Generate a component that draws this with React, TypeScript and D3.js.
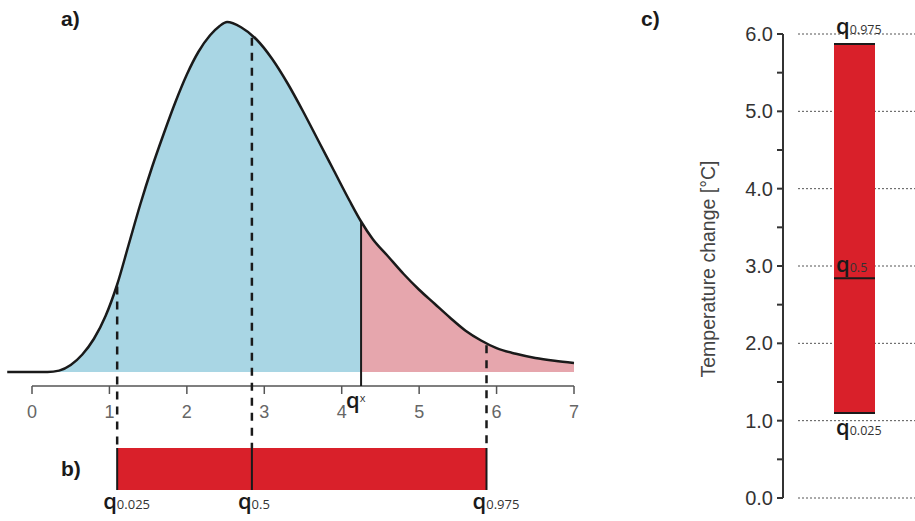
import React from 'react';
import * as d3 from 'd3';

// density curve (relative height, peak = 1)
const curveX = [-0.32, 0.2, 0.35, 0.5, 0.65, 0.8, 0.95, 1.1, 1.25, 1.4, 1.55, 1.7, 1.85, 2.0, 2.15, 2.3, 2.42, 2.52,
    2.7, 2.9, 3.1, 3.3, 3.5, 3.7, 3.9, 4.1, 4.25, 4.4, 4.6, 4.8, 5.0, 5.2, 5.4, 5.6, 5.8, 6.0, 6.25, 6.5, 6.75, 7.0];
const curveDensity = [0, 0, 0.004, 0.02, 0.05, 0.095, 0.16, 0.25, 0.365, 0.48, 0.585, 0.68, 0.77, 0.85, 0.915, 0.962, 0.988, 1.0,
    0.985, 0.95, 0.895, 0.825, 0.745, 0.66, 0.575, 0.49, 0.43, 0.38, 0.33, 0.28, 0.235, 0.195, 0.155, 0.118, 0.09, 0.068, 0.052, 0.04, 0.032, 0.026];

const quantileNames = ['0.025', '0.5', '0.975'];
const quantileValues = [1.1, 2.84, 5.87];
const qxValue = 4.25;

const xTicks = [0, 1, 2, 3, 4, 5, 6, 7];
const yTicks = [0, 1, 2, 3, 4, 5, 6];
const yMinorTicks = [0.5, 1.5, 2.5, 3.5, 4.5, 5.5];
const yTitle = 'Temperature change [°C]';

const blue = '#a9d6e4';
const pink = '#e6a6ad';
const red = '#d9202a';
const ink = '#1a1a1a';

const points = curveX.map((x, i) => ({x, d: curveDensity[i]}));

// linear lookup of the curve height at value v
function densityAt(v) {
    const i = d3.bisector((p) => p.x).left(points, v);
    if (i <= 0) return points[0].d;
    if (i >= points.length) return points[points.length - 1].d;
    const a = points[i - 1], b = points[i];
    return a.d + (b.d - a.d) * (v - a.x) / (b.x - a.x);
}

// q with a small subscript
const QLabel = ({x, y, sub, size = 22, subSize = 13, subDy = 0}) => (
    <text x={x} y={y} fontFamily="Open Sans, sans-serif" fill={ink}>
        <tspan fontSize={size} fontWeight={600}>q</tspan>
        <tspan fontSize={subSize} fill="#333" dy={subDy}>{sub}</tspan>
    </text>
);

const App = () => {
    const width = 915, height = 521;

    // panel a
    const x = d3.scaleLinear().domain([0, 7]).range([32, 574]);
    const baseY = 372;
    const d = d3.scaleLinear().domain([0, 1]).range([baseY, 22]);
    const axisY = 386;

    const area = d3.area().x((p) => x(p.x)).y0(baseY).y1((p) => d(p.d)).curve(d3.curveMonotoneX);
    const line = d3.line().x((p) => x(p.x)).y((p) => d(p.d)).curve(d3.curveMonotoneX);

    // panel b
    const barTop = 448, barBottom = 490;

    // panel c
    const t = d3.scaleLinear().domain([0, 6]).range([498, 34]);
    const cAxisX = 783;
    const cBarX = 834, cBarW = 41;

    const qx = x(qxValue);

    return (
        <svg width={width} height={height} style={{position: 'absolute', left: 0, top: 0, background: '#fff'}}
             fontFamily="Liberation Sans, Arial, sans-serif">
            <defs>
                <clipPath id="leftClip">
                    <rect x={0} y={0} width={qx} height={height}/>
                </clipPath>
                <clipPath id="rightClip">
                    <rect x={qx} y={0} width={width - qx} height={height}/>
                </clipPath>
            </defs>

            {/* panel labels */}
            <text x={61} y={26} fontSize={21} fontWeight="bold" fill={ink}>a)</text>
            <text x={61} y={476} fontSize={21} fontWeight="bold" fill={ink}>b)</text>
            <text x={641} y={26} fontSize={21} fontWeight="bold" fill={ink}>c)</text>

            {/* panel a: density */}
            <path d={area(points)} fill={blue} clipPath="url(#leftClip)"/>
            <path d={area(points)} fill={pink} clipPath="url(#rightClip)"/>
            <path d={line(points)} fill="none" stroke={ink} strokeWidth={2.5}/>

            {/* x axis */}
            <line x1={x(0)} x2={x(7)} y1={axisY} y2={axisY} stroke="#555" strokeWidth={1.5}/>
            {xTicks.map((v) => (
                <g key={v}>
                    <line x1={x(v)} x2={x(v)} y1={axisY} y2={axisY + 8} stroke="#555" strokeWidth={1.5}/>
                    <text x={x(v)} y={axisY + 32} fontSize={18} fill="#666" textAnchor="middle">{v}</text>
                </g>
            ))}

            {/* q_x */}
            <line x1={qx} x2={qx} y1={d(densityAt(qxValue))} y2={axisY} stroke={ink} strokeWidth={2}/>
            <text x={qx - 15} y={408} fontFamily="Open Sans, sans-serif" fill={ink}>
                <tspan fontSize={22} fontWeight={600}>q</tspan>
                <tspan fontSize={11} dy={-6} fill="#333">x</tspan>
            </text>

            {/* dashed quantile lines */}
            {quantileValues.map((v) => (
                <line key={v} x1={x(v)} x2={x(v)} y1={d(densityAt(v)) + 2} y2={barTop}
                      stroke={ink} strokeWidth={2.5} strokeDasharray="8,7"/>
            ))}

            {/* panel b: interval bar */}
            <rect x={x(quantileValues[0])} y={barTop} width={x(quantileValues[2]) - x(quantileValues[0])}
                  height={barBottom - barTop} fill={red}/>
            {quantileValues.map((v) => (
                <line key={'b' + v} x1={x(v)} x2={x(v)} y1={barTop} y2={barBottom} stroke={ink} strokeWidth={2}/>
            ))}
            {quantileValues.map((v, i) => (
                <QLabel key={'bl' + v} x={x(v) - 14} y={509} sub={quantileNames[i]}/>
            ))}

            {/* panel c: grid */}
            {yTicks.map((v) => (
                <line key={'g' + v} x1={798} x2={width} y1={t(v)} y2={t(v)} stroke="#555" strokeWidth={1}
                      strokeDasharray="2,2"/>
            ))}

            {/* panel c: axis */}
            <line x1={cAxisX} x2={cAxisX} y1={t(0)} y2={t(6)} stroke="#333" strokeWidth={2}/>
            {yTicks.map((v) => (
                <g key={'y' + v}>
                    <line x1={cAxisX - 6} x2={cAxisX} y1={t(v)} y2={t(v)} stroke="#333" strokeWidth={2}/>
                    <text x={cAxisX - 10} y={t(v) + 7} fontSize={20} fill="#333" textAnchor="end">{d3.format('.1f')(v)}</text>
                </g>
            ))}
            {yMinorTicks.map((v) => (
                <line key={'m' + v} x1={cAxisX - 6} x2={cAxisX} y1={t(v)} y2={t(v)} stroke="#333" strokeWidth={2}/>
            ))}
            <text transform={`translate(715, 269) rotate(-90)`} fontSize={19.5} fill="#444"
                  textAnchor="middle">{yTitle}</text>

            {/* panel c: bar */}
            <rect x={cBarX} y={t(quantileValues[2])} width={cBarW}
                  height={t(quantileValues[0]) - t(quantileValues[2])} fill={red}/>
            {quantileValues.map((v) => (
                <line key={'c' + v} x1={cBarX} x2={cBarX + cBarW} y1={t(v)} y2={t(v)} stroke={ink} strokeWidth={2}/>
            ))}
            <QLabel x={cBarX + 2} y={t(quantileValues[2]) - 10} sub={quantileNames[2]} subSize={12.5}/>
            <QLabel x={cBarX + 2} y={t(quantileValues[1]) - 6} sub={quantileNames[1]} subSize={12.5}/>
            <QLabel x={cBarX + 2} y={t(quantileValues[0]) + 22} sub={quantileNames[0]} subSize={12.5}/>
        </svg>
    );
};

export default App;
